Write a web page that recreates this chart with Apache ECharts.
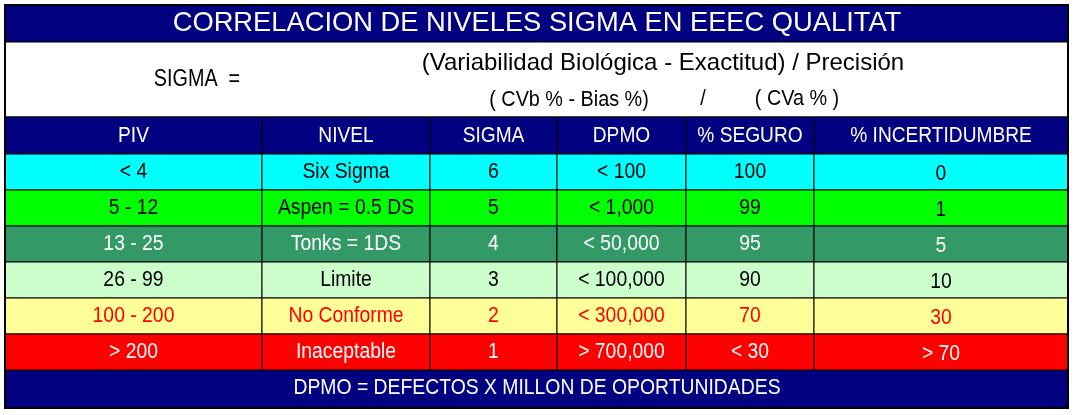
<!DOCTYPE html>
<html>
<head>
<meta charset="utf-8">
<title>niveles sigma</title>
<script src="https://cdn.jsdelivr.net/npm/echarts@6/dist/echarts.min.js"></script>
</head>
<body style="margin:0">
<div id="box" style="width:1075px;height:415px;"></div>
<script>
var mCharts = echarts.init(document.querySelector('#box'))

// textos
var titulo = 'CORRELACION DE NIVELES SIGMA EN EEEC QUALITAT'
var pie = 'DPMO = DEFECTOS X MILLON DE OPORTUNIDADES'
var formula = ['SIGMA  =', '(Variabilidad Biológica - Exactitud) / Precisión', '( CVb % - Bias %)', '/', '( CVa % )']
var cabeceras = ['PIV', 'NIVEL', 'SIGMA', 'DPMO', '% SEGURO', '% INCERTIDUMBRE']

// columnas de la tabla
var piv = ['< 4', '5 - 12', '13 - 25', '26 - 99', '100 - 200', '> 200']
var nivel = ['Six Sigma', 'Aspen = 0.5 DS', 'Tonks = 1DS', 'Limite', 'No Conforme', 'Inaceptable']
var sigma = ['6', '5', '4', '3', '2', '1']
var dpmo = ['< 100', '< 1,000', '< 50,000', '< 100,000', '< 300,000', '> 700,000']
var seguro = ['100', '99', '95', '90', '70', '< 30']
var incert = ['0', '1', '5', '10', '30', '> 70']
var columnas = [piv, nivel, sigma, dpmo, seguro, incert]

// colores por fila
var fondos = ['#00ffff', '#00ff00', '#339966', '#ccffcc', '#ffff99', '#ff0000']
var letras = ['#000000', '#000000', '#ffffff', '#000000', '#ff0000', '#ffffff']

// bordes de columnas y filas (en unidades de los ejes)
var colX = [5, 262, 430, 557, 686, 814, 1068]
var filaY = [154, 190, 226, 262, 298, 334, 370]
var azul = '#000080'
var fuente = '"Liberation Sans", Arial, sans-serif'

// texto centrado; sx < 1 imita la letra estrecha del original
function texto(t, p, size, color, sx) {
	return {
		type: 'text',
		x: p[0], y: p[1],
		scaleX: sx || 1,
		style: {
			text: t, x: 0, y: 0, fill: color,
			fontSize: size, fontFamily: fuente,
			align: 'center', verticalAlign: 'middle'
		}
	}
}

function caja(p0, p1, fill) {
	return {
		type: 'rect',
		shape: { x: p0[0], y: p0[1], width: p1[0] - p0[0], height: p1[1] - p0[1] },
		style: { fill: fill, stroke: '#000', lineWidth: 1 }
	}
}

// bandas: titulo, formula y pie
function renderBanda(params, api) {
	var i = params.dataIndex
	var g = []
	if (i === 0) {
		g.push(caja(api.coord([5, 5]), api.coord([1068, 42]), azul))
		g.push(texto(titulo, api.coord([537, 23]), 27.3, '#fff'))
	} else if (i === 1) {
		g.push(caja(api.coord([5, 42]), api.coord([1068, 117]), '#fff'))
		g.push(texto(formula[0], api.coord([197, 80]), 23, '#000', 0.86))
		g.push(texto(formula[1], api.coord([663, 63]), 24, '#000'))
		g.push(texto(formula[2], api.coord([569, 100]), 22, '#000', 0.9))
		g.push(texto(formula[3], api.coord([703, 99]), 22, '#000', 0.9))
		g.push(texto(formula[4], api.coord([797, 99]), 22, '#000', 0.9))
	} else {
		g.push(caja(api.coord([5, 370]), api.coord([1068, 408]), azul))
		g.push(texto(pie, api.coord([537, 388]), 22, '#fff', 0.88))
	}
	return { type: 'group', children: g }
}

function renderCabecera(params, api) {
	var c = api.value(0)
	var p0 = api.coord([colX[c], 117])
	var p1 = api.coord([colX[c + 1], filaY[0]])
	return {
		type: 'group',
		children: [
			caja(p0, p1, azul),
			texto(cabeceras[c], [(p0[0] + p1[0]) / 2, (p0[1] + p1[1]) / 2], 22, '#fff', 0.87)
		]
	}
}

function renderCelda(params, api) {
	var c = api.value(0)
	var r = api.value(1)
	var p0 = api.coord([colX[c], filaY[r]])
	var p1 = api.coord([colX[c + 1], filaY[r + 1]])
	var dy = c === 5 ? 2 : 0
	return {
		type: 'group',
		children: [
			caja(p0, p1, fondos[r]),
			texto(columnas[c][r], [(p0[0] + p1[0]) / 2, (p0[1] + p1[1]) / 2 + dy], 22, letras[r], 0.88)
		]
	}
}

var celdas = []
for (var r = 0; r < piv.length; r++) {
	for (var c = 0; c < columnas.length; c++) {
		celdas.push([c, r])
	}
}

var option = {
	animation: false,
	grid: { left: 5, top: 5, width: 1063, height: 403 },
	xAxis: { type: 'value', min: 5, max: 1068, show: false },
	yAxis: { type: 'value', min: 5, max: 408, inverse: true, show: false },
	series: [
		{ type: 'custom', renderItem: renderBanda, data: [[0], [1], [2]] },
		{ type: 'custom', renderItem: renderCabecera, data: cabeceras.map(function (t, i) { return [i] }) },
		{ type: 'custom', renderItem: renderCelda, data: celdas },
		{
			type: 'custom',
			data: [[0]],
			renderItem: function (params, api) {
				var p0 = api.coord([5, 5])
				var p1 = api.coord([1068, 408])
				return {
					type: 'rect',
					shape: { x: p0[0], y: p0[1], width: p1[0] - p0[0], height: p1[1] - p0[1] },
					style: { fill: null, stroke: '#000', lineWidth: 2 }
				}
			}
		}
	]
}
mCharts.setOption(option)
</script>
</body>
</html>
